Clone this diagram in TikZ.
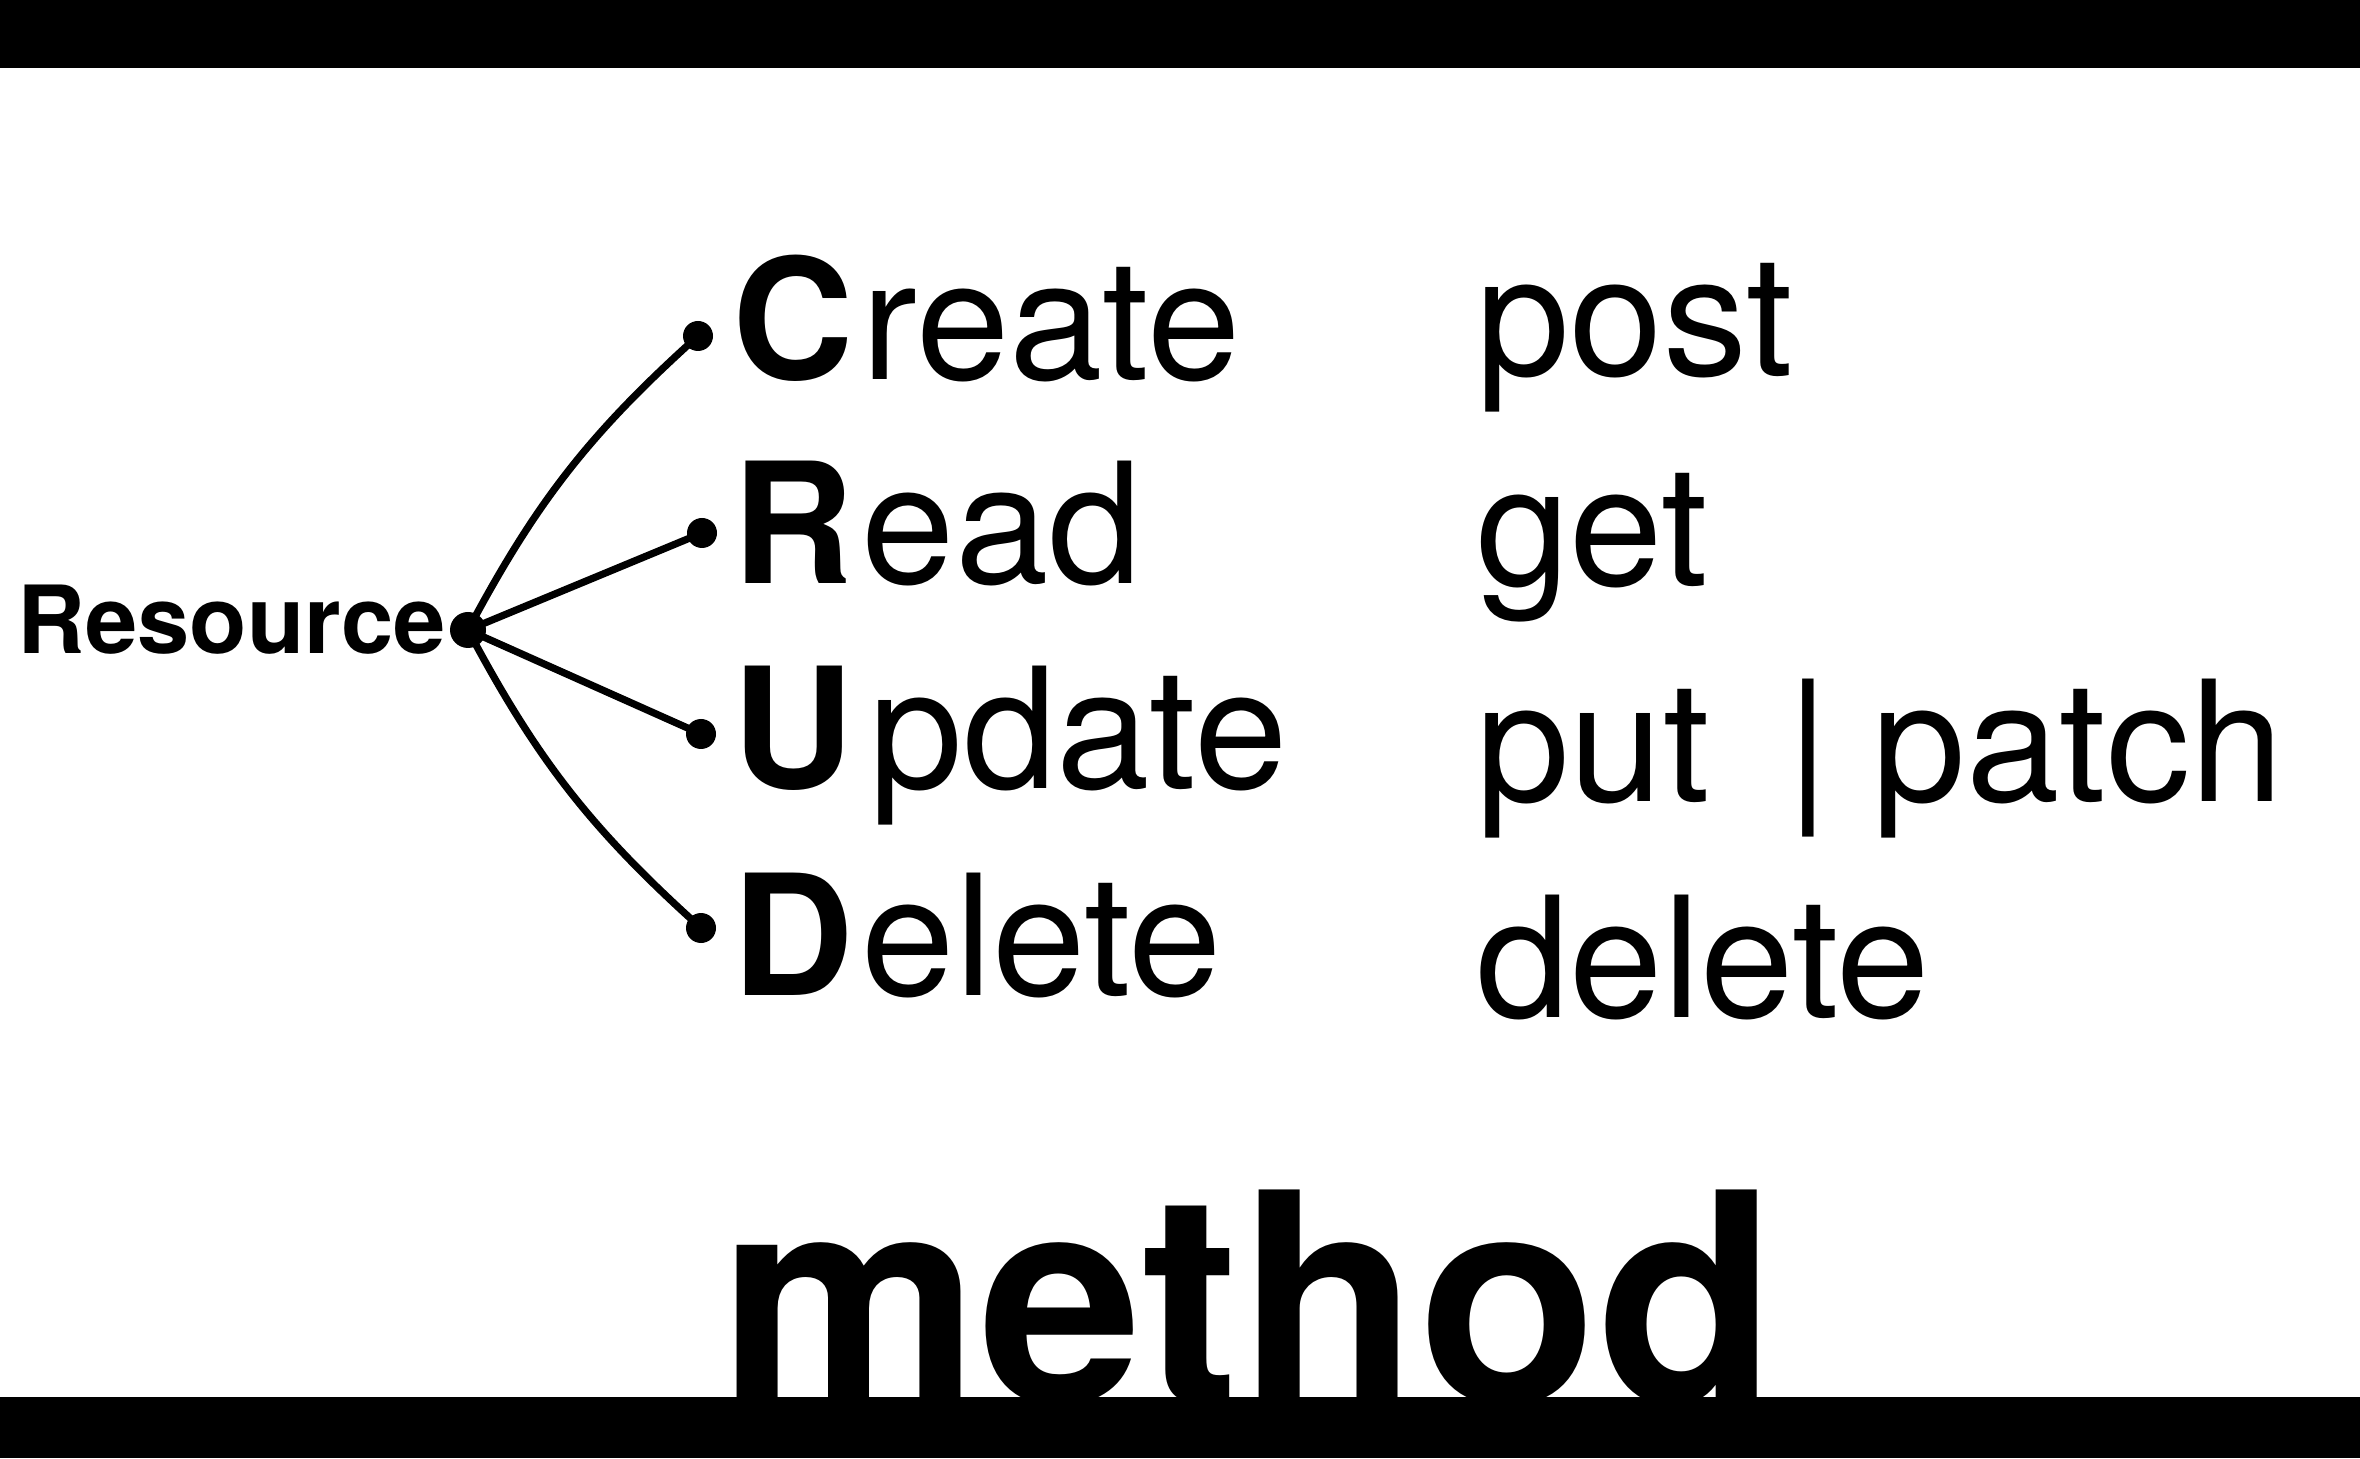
\documentclass[tikz,border=0pt]{standalone}
\usepackage{fontspec}
\setmainfont{TeX Gyre Heros}
\usepackage{tikz}
\usetikzlibrary{positioning}
\tikzstyle{word}=[inner sep=0, anchor=base west, font=\fontsize{84}{84}\selectfont]
\tikzstyle{small}=[inner sep=0, anchor=base west, font=\fontsize{47}{47}\selectfont\bfseries]
\tikzstyle{big}=[inner sep=0, anchor=base west, font=\fontsize{146.5}{146.5}\selectfont\bfseries]
\tikzstyle{leaf}=[circle, fill=black, inner sep=0, minimum size=15pt]
\tikzstyle{hubdot}=[circle, fill=black, inner sep=0, minimum size=18pt]
\tikzstyle{link}=[line width=3.6pt]
\newcommand{\first}[1]{\textbf{#1}\kern4pt}

\begin{document}
\begin{tikzpicture}[x=1pt, y=1pt]
	\useasboundingbox (0,0) rectangle (1180,729);
	\node[small] (resource) at (8.5,402) {Resource};
	\node[hubdot] (hub) at (234,414) {};
	% the four operations
	\node[word] (create) at (366,539) {\first{C}reate};
	\node[word, below=102pt of create.base west, anchor=base west] (read) {\first{R}ead};
	\node[word, below=102.5pt of read.base west, anchor=base west] (update) {\first{U}\kern4pt pdate};
	\node[word, below=103pt of update.base west, anchor=base west] (delete) {\first{D}elete};
	% http verbs
	\node[word] (post) at (738,541) {post};
	\node[word, below=105pt of post.base west, anchor=base west] (get) {get};
	\node[word, below=108pt of get.base west, anchor=base west] (put) {put \kern15pt|\kern-2pt{} patch};
	\node[word, below=107.5pt of put.base west, anchor=base west] (del) {delete};
	\node[leaf] (dotC) at (349,561) {};
	\node[leaf] (dotR) at (351,462.5) {};
	\node[leaf] (dotU) at (350.5,362) {};
	\node[leaf] (dotD) at (350.5,265) {};
	\draw[link] (hub.center) to[bend left=10] (dotC.center);
	\draw[link] (hub.center) -- (dotR.center);
	\draw[link] (hub.center) -- (dotU.center);
	\draw[link] (hub.center) to[bend right=10] (dotD.center);
	\node[big] (method) at (359.5,27.5) {method};
	% black bars
	\fill (0,695) rectangle (1180,729);
	\fill (0,0) rectangle (1180,30.5);
\end{tikzpicture}
\end{document}
